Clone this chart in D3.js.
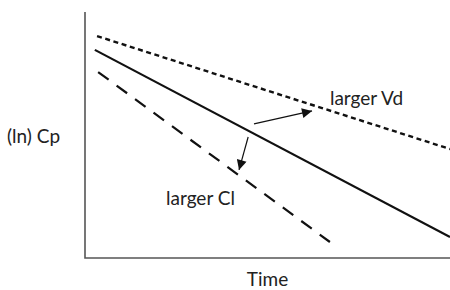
<!DOCTYPE html>
<html>
<head>
<meta charset="utf-8">
<script src="https://cdn.jsdelivr.net/npm/d3@7"></script>
<style>
  body { margin: 0; background: white; }
  svg { display: block; }
  text { font-family: Lato, "Open Sans", sans-serif; fill: #222; }
</style>
</head>
<body>
<div id="chart"></div>
<script>
// lines in data units (time, ln Cp), both axes 0..10
const baseLine = [{t: 0.27, v: 8.46}, {t: 10, v: 0.85}]
const vdLine = [{t: 0.33, v: 9.02}, {t: 10, v: 4.43}]
const clLine = [{t: 0.36, v: 7.56}, {t: 6.71, v: 0.65}]

const arrows = [
    [{t: 4.63, v: 5.45}, {t: 6.22, v: 5.98}],
    [{t: 4.47, v: 4.92}, {t: 4.22, v: 3.58}]
]

const labels = [
    {text: "larger Vd", t: 6.71, v: 6.22},
    {text: "larger Cl", t: 2.22, v: 2.15}
]

const xTitle = "Time"
const yTitle = "(ln) Cp"

const W = 450, H = 290
const margin = {top: 12, right: 0, bottom: 32, left: 85}

const svg = d3.select("#chart").append("svg")
    .attr("width", W)
    .attr("height", H)

const x = d3.scaleLinear().domain([0, 10]).range([margin.left, W - margin.right])
const y = d3.scaleLinear().domain([0, 10]).range([H - margin.bottom, margin.top])

svg.append("defs").append("marker")
    .attr("id", "head")
    .attr("viewBox", "0 0 10 10")
    .attr("refX", 10)
    .attr("refY", 5)
    .attr("markerWidth", 13)
    .attr("markerHeight", 10)
    .attr("markerUnits", "userSpaceOnUse")
    .attr("orient", "auto")
  .append("path")
    .attr("d", "M0,0 L10,5 L0,10 Z")
    .attr("fill", "#111")

// axes (no ticks)
svg.append("path")
    .attr("d", `M${x(0)},${y(10)} V${y(0)} H${x(10)}`)
    .attr("fill", "none")
    .attr("stroke", "#555")
    .attr("stroke-width", 1.6)

const line = d3.line()
    .x(d => x(d.t))
    .y(d => y(d.v))

svg.append("path")
    .datum(vdLine)
    .attr("d", line)
    .attr("fill", "none")
    .attr("stroke", "#111")
    .attr("stroke-width", 2.4)
    .attr("stroke-dasharray", "5,3.6")

svg.append("path")
    .datum(baseLine)
    .attr("d", line)
    .attr("fill", "none")
    .attr("stroke", "#111")
    .attr("stroke-width", 2.2)

svg.append("path")
    .datum(clLine)
    .attr("d", line)
    .attr("fill", "none")
    .attr("stroke", "#111")
    .attr("stroke-width", 2.2)
    .attr("stroke-dasharray", "13,9.9")

svg.selectAll(".arrow")
    .data(arrows)
    .join("path")
    .attr("class", "arrow")
    .attr("d", line)
    .attr("fill", "none")
    .attr("stroke", "#111")
    .attr("stroke-width", 1.2)
    .attr("marker-end", "url(#head)")

svg.selectAll(".lab")
    .data(labels)
    .join("text")
    .attr("class", "lab")
    .attr("x", d => x(d.t))
    .attr("y", d => y(d.v))
    .attr("font-size", 19)
    .text(d => d.text)

svg.append("text")
    .attr("x", 7)
    .attr("y", 143)
    .attr("font-size", 19)
    .text(yTitle)

svg.append("text")
    .attr("x", x(5))
    .attr("y", 286)
    .attr("text-anchor", "middle")
    .attr("font-size", 19)
    .text(xTitle)
</script>
</body>
</html>
